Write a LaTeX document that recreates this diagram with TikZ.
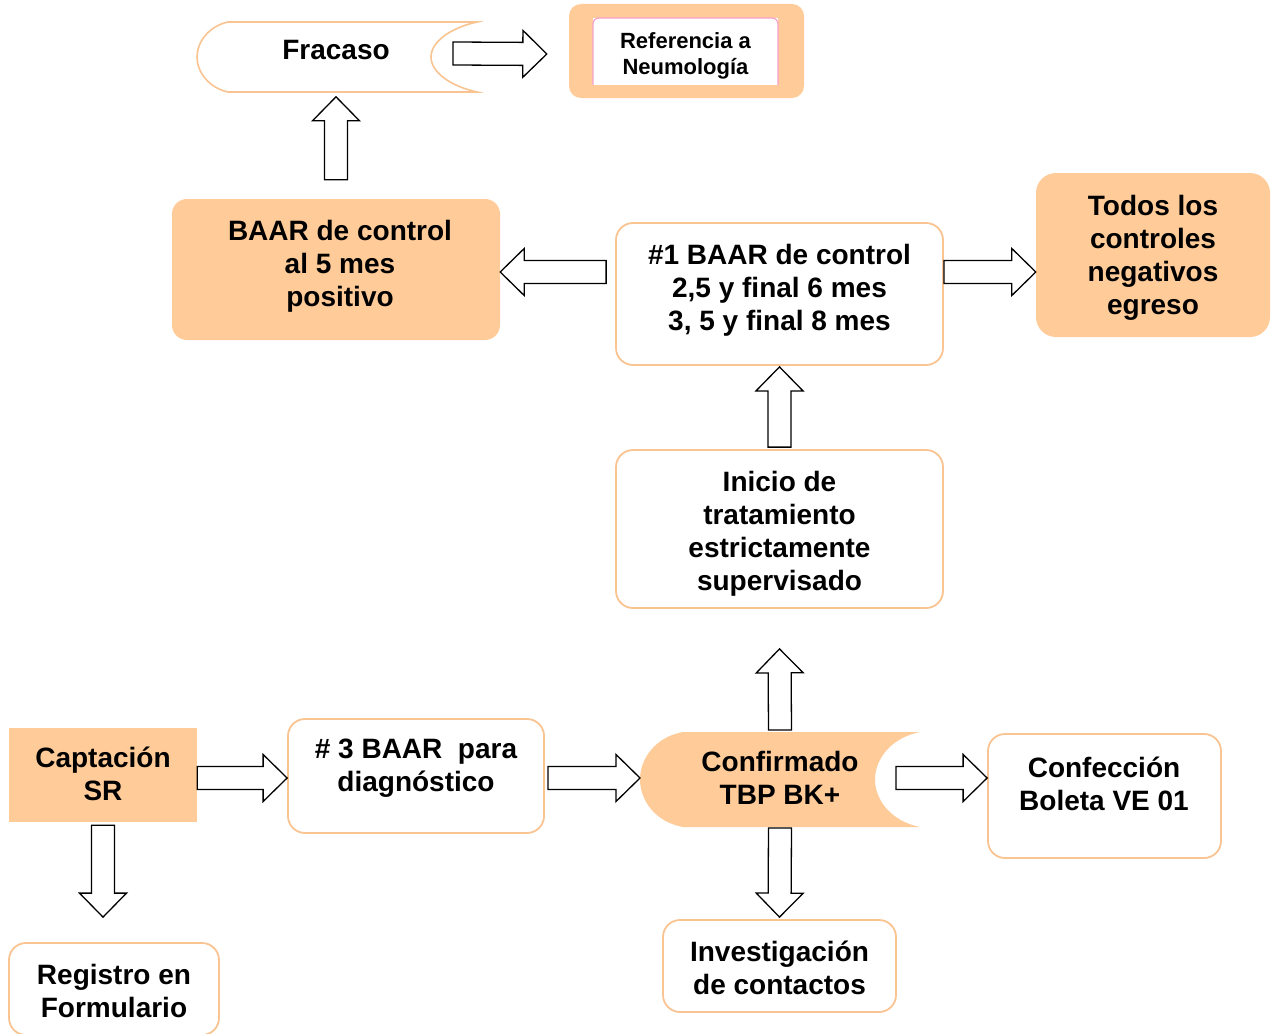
\documentclass[tikz,border=0pt]{standalone}
\usepackage{fontspec}
\setmainfont{Liberation Sans}
\usetikzlibrary{calc}

\definecolor{peach}{RGB}{255,204,153}
\definecolor{peachline}{RGB}{250,196,146}
\definecolor{pinkline}{RGB}{245,160,205}

\tikzset{
  fillbox/.style={rectangle, fill=peach, draw=none, rounded corners=15pt, inner sep=0pt},
  sharpbox/.style={rectangle, fill=peach, draw=none, inner sep=0pt},
  linebox/.style={rectangle, fill=white, draw=peachline, line width=1.8pt, rounded corners=17pt, inner sep=0pt},
  bigtext/.style={font=\fontsize{28}{33}\selectfont\bfseries, align=center, inner sep=0pt},
  smalltext/.style={font=\fontsize{22}{26}\selectfont\bfseries, align=center, inner sep=0pt},
  blockarrow/.style={draw=black, line width=1.3pt, fill=white, line join=miter},
}

% hollow block arrow from #1 to the tip #2
\newcommand\blockarrow[2]{%
  \coordinate (ba-s) at #1;
  \coordinate (ba-t) at #2;
  \coordinate (ba-h) at ($(ba-t)!24pt!(ba-s)$);
  \draw[blockarrow] ($(ba-s)!11.5pt!90:(ba-t)$) -- ($(ba-h)!11.5pt!-90:(ba-s)$)
    -- ($(ba-h)!23.5pt!-90:(ba-s)$) -- (ba-t) -- ($(ba-h)!23.5pt!90:(ba-s)$)
    -- ($(ba-h)!11.5pt!90:(ba-s)$) -- ($(ba-s)!11.5pt!-90:(ba-t)$) -- cycle;
}

\begin{document}
\begin{tikzpicture}[x=1pt,y=-1pt]
\useasboundingbox (0,0) rectangle (1276,1033);
\fill[white] (0,0) rectangle (1276,1033);

% ---- Fracaso: convex left side, concave right side
\draw[peachline, line width=1.6pt, fill=white]
  (228,22) -- (477,22) .. controls (450,28) and (431,42) .. (431,57)
  .. controls (431,72) and (450,86) .. (477,92) -- (228,92)
  .. controls (209,88) and (197,72) .. (197,57)
  .. controls (197,42) and (209,26) .. (228,22) -- cycle;
\node[bigtext] (fracaso) at (336,50) {Fracaso};

% ---- Referencia a Neumologia
\node[fillbox, rounded corners=12pt, minimum width=235pt, minimum height=94pt] (refout) at (686.5,51) {};
\fill[white] (593,18) rectangle (778,85);
\draw[pinkline, line width=1.2pt, rounded corners=6pt] (593,85) -- (593,18) -- (778,18) -- (778,85);
\node[smalltext] (ref) at (685.5,56) {Referencia a\\Neumología};

% ---- Upper row
\node[fillbox, minimum width=328pt, minimum height=141pt] (ctl5) at (336,269.5) {};
\node[bigtext] (ctl5t) at (340,266) {BAAR de control\\al 5 mes\\positivo};

\node[linebox, minimum width=327pt, minimum height=142pt] (ctl1) at (779.5,294) {};
\node[bigtext] (ctl1t) at (779.5,290) {\#1 BAAR de control\\2,5 y final 6 mes\\3, 5 y final 8 mes};

\node[fillbox, rounded corners=20pt, minimum width=234pt, minimum height=164pt] (todos) at (1153,255) {};
\node[bigtext] (todost) at (1153,258) {Todos los\\controles\\negativos\\egreso};

\node[linebox, minimum width=327pt, minimum height=158pt] (inicio) at (779.5,529) {};
\node[bigtext] (iniciot) at (779.5,534) {Inicio de\\tratamiento\\estrictamente\\supervisado};

% ---- Lower row
\node[sharpbox, minimum width=188pt, minimum height=94pt] (capt) at (103,775) {};
\node[bigtext] (captt) at (103,774) {Captación\\SR};

\node[linebox, minimum width=256pt, minimum height=114pt] (baar3) at (416,776) {};
\node[bigtext] (baar3t) at (416,768) {\# 3 BAAR\ \ para\\diagnóstico};

% Confirmado: convex left side, concave right side
\fill[peach]
  (683,732) -- (920,732) .. controls (890,738) and (875,760) .. (875,779.5)
  .. controls (875,799) and (890,821) .. (920,827) -- (683,827)
  .. controls (655,822) and (640,800) .. (640,779.5)
  .. controls (640,759) and (655,737) .. (683,732) -- cycle;
\node[bigtext] (conf) at (780,778) {Confirmado\\TBP BK+};

\node[linebox, minimum width=233pt, minimum height=124pt] (confe) at (1104.5,796) {};
\node[bigtext] (confet) at (1104,784) {Confección\\Boleta VE 01};

\node[linebox, minimum width=210pt, minimum height=92pt] (regis) at (114,989) {};
\node[bigtext] (regist) at (114,991) {Registro en\\Formulario};

\node[linebox, minimum width=233pt, minimum height=92pt] (invest) at (779.5,966) {};
\node[bigtext] (investt) at (779.5,968) {Investigación\\de contactos};

% ---- Block arrows
\blockarrow{($(fracaso)+(117,3.5)$)}{($(refout.west)+(-22,3)$)}
\blockarrow{($(ctl5.north)+(0,-19)$)}{($(ctl5.north)+(0,-102)$)}
\blockarrow{($(ctl1.west)+(-9,-22)$)}{($(ctl5.east)+(0,2.5)$)}
\blockarrow{($(ctl1.east)+(0,-22)$)}{($(todos.west)+(0,17)$)}
\blockarrow{($(inicio.north)+(0,-2)$)}{($(ctl1.south)+(0,1)$)}
\blockarrow{($(conf)+(0,-48)$)}{($(inicio.south)+(0,40)$)}
\blockarrow{($(capt.east)+(0,3)$)}{($(baar3.west)+(0,2)$)}
\blockarrow{($(baar3.east)+(3,2)$)}{($(conf)+(-140,0)$)}
\blockarrow{($(conf)+(116,0)$)}{($(confe.west)+(0,-18)$)}
\blockarrow{($(capt.south)+(0,3)$)}{($(regis.north)+(-11,-25)$)}
\blockarrow{($(conf)+(0,50)$)}{($(invest.north)+(0,-2)$)}
\end{tikzpicture}
\end{document}
